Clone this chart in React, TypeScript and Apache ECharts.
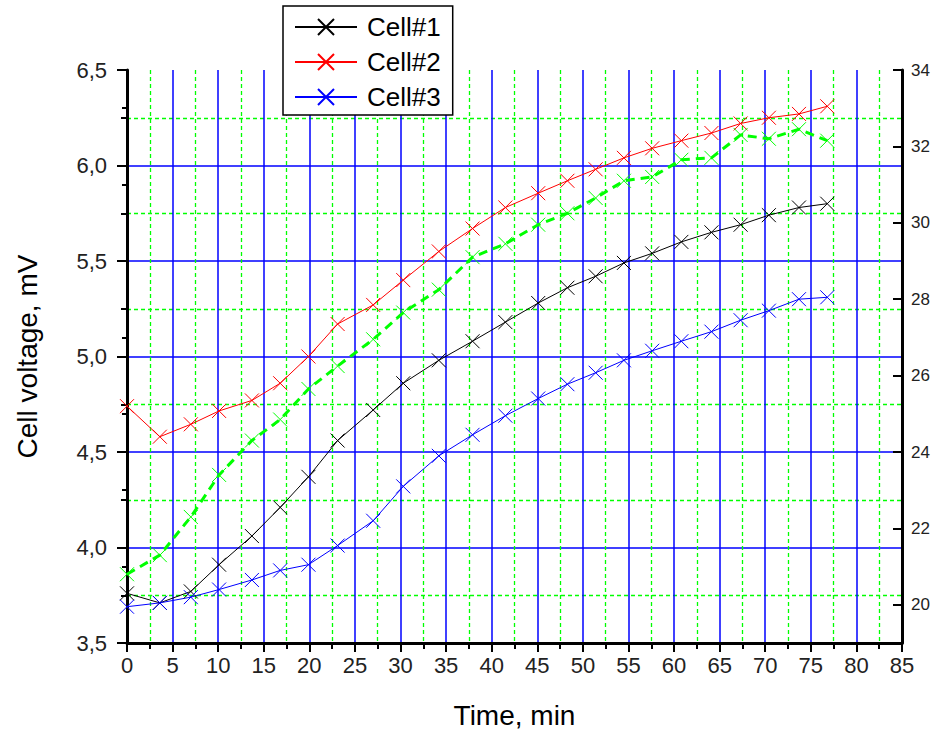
import React, { useEffect, useRef } from "react";
import * as echarts from "echarts";

const times = [0, 3.6, 7.0, 10.1, 13.7, 16.8, 19.9, 23.1, 27.0, 30.3, 34.2, 37.9, 41.5, 45.1, 48.3, 51.4, 54.5, 57.6, 60.8, 64.1, 67.3, 70.4, 73.7, 76.8];
const cell1 = [3.76, 3.71, 3.77, 3.91, 4.06, 4.21, 4.37, 4.56, 4.72, 4.86, 4.98, 5.08, 5.18, 5.28, 5.36, 5.42, 5.49, 5.54, 5.6, 5.65, 5.69, 5.74, 5.78, 5.8];
const cell2 = [4.74, 4.58, 4.645, 4.715, 4.77, 4.86, 5.0, 5.17, 5.27, 5.4, 5.55, 5.67, 5.78, 5.855, 5.92, 5.98, 6.04, 6.09, 6.13, 6.17, 6.22, 6.25, 6.27, 6.31];
const cell3 = [3.69, 3.71, 3.74, 3.78, 3.83, 3.88, 3.91, 4.01, 4.14, 4.32, 4.48, 4.59, 4.69, 4.78, 4.855, 4.915, 4.98, 5.03, 5.08, 5.13, 5.19, 5.24, 5.3, 5.31];
const rightSeries = [20.8, 21.3, 22.3, 23.4, 24.3, 24.85, 25.65, 26.25, 26.95, 27.65, 28.25, 29.1, 29.45, 29.95, 30.25, 30.65, 31.1, 31.2, 31.65, 31.7, 32.3, 32.2, 32.45, 32.15];
const rightMajorTicks = [20, 22, 24, 26, 28, 30, 32, 34];
const rightMinorTicks = [21, 23, 25, 27, 29, 31, 33];
const legendNames = ["Cell#1", "Cell#2", "Cell#3"];

const XSYM = "path://M0,0L10,10M10,0L0,10";
const FONT = "Liberation Sans, Arial, sans-serif";

function pairs(ys: number[]) {
  return times.map((t, i) => [t, ys[i]]);
}

function lineSeries(name: string, ys: number[], color: string, yAxisIndex = 0, dashed = false) {
  return {
    name,
    type: "line",
    yAxisIndex,
    data: pairs(ys),
    symbol: XSYM,
    symbolSize: 14,
    showAllSymbol: true,
    lineStyle: dashed ? { color, width: 3, type: [9, 6] } : { color, width: 1 },
    itemStyle: { color, borderColor: color, borderWidth: 1 },
    emphasis: { disabled: true },
    z: 3,
  };
}

export default function App() {
  const ref = useRef<HTMLDivElement>(null);
  useEffect(() => {
    if (!ref.current) return;
    const chart = echarts.init(ref.current, undefined, { renderer: "svg" });
    chart.setOption({
      animation: false,
      backgroundColor: "#ffffff",
      textStyle: { fontFamily: FONT },
      grid: { left: 127, right: 30, top: 70, bottom: 92, containLabel: false, outerBoundsMode: "none" },
      legend: {
        data: legendNames,
        orient: "vertical",
        left: 283,
        top: 6,
        padding: [8, 12, 5, 11],
        itemWidth: 62,
        itemHeight: 20,
        itemGap: 9,
        backgroundColor: "#ffffff",
        borderColor: "#000000",
        borderWidth: 1.5,
        borderRadius: 0,
        textStyle: { fontSize: 26, lineHeight: 25, color: "#000", fontFamily: FONT, padding: [0, 0, 0, 5] },
        z: 10,
      },
      xAxis: {
        type: "value",
        min: 0,
        max: 85,
        interval: 5,
        name: "Time, min",
        nameLocation: "middle",
        nameGap: 58,
        nameTextStyle: { fontSize: 28, color: "#000", fontFamily: FONT },
        axisLine: { show: true, onZero: false, lineStyle: { color: "#000", width: 3 } },
        axisTick: { show: true, inside: false, length: 9, lineStyle: { color: "#000", width: 2 } },
        minorTick: { show: true, splitNumber: 2, length: 6, lineStyle: { color: "#000", width: 2 } },
        axisLabel: { fontSize: 22, color: "#222", margin: 11, fontFamily: FONT },
        splitLine: { show: true, showMinLine: false, showMaxLine: false, lineStyle: { color: "#0000ff", width: 1.5, type: "solid" } },
        minorSplitLine: { show: true, lineStyle: { color: "#00ff00", width: 1.3, type: [4, 3] } },
      },
      yAxis: [
        {
          type: "value",
          min: 3.5,
          max: 6.5,
          interval: 0.5,
          position: "left",
          name: "Cell voltage, mV",
          nameLocation: "middle",
          nameGap: 86,
          nameTextStyle: { fontSize: 28, color: "#000", fontFamily: FONT },
          axisLine: { show: true, onZero: false, lineStyle: { color: "#000", width: 3 } },
          axisTick: { show: true, inside: false, length: 10, lineStyle: { color: "#000", width: 2 } },
          minorTick: { show: true, splitNumber: 2, length: 6, lineStyle: { color: "#000", width: 2 } },
          axisLabel: {
            fontSize: 22,
            color: "#222",
            margin: 20,
            fontFamily: FONT,
            formatter: (v: number) => v.toFixed(1).replace(".", ","),
          },
          splitLine: { show: true, showMinLine: false, showMaxLine: false, lineStyle: { color: "#0000ff", width: 1.5, type: "solid" } },
          minorSplitLine: { show: true, lineStyle: { color: "#00ff00", width: 1.3, type: [4, 3] } },
        },
        {
          type: "value",
          min: 19,
          max: 34,
          position: "right",
          axisLine: { show: true, onZero: false, lineStyle: { color: "#000", width: 3 } },
          axisTick: { show: true, inside: true, length: 9, customValues: rightMajorTicks, lineStyle: { color: "#000", width: 2 } },
          axisLabel: { show: true, customValues: rightMajorTicks, fontSize: 17, color: "#222", margin: 9, fontFamily: FONT },
          splitLine: { show: false },
        },
        {
          type: "value",
          min: 19,
          max: 34,
          position: "right",
          axisLine: { show: false },
          axisTick: { show: true, inside: true, length: 5, customValues: rightMinorTicks, lineStyle: { color: "#000", width: 2 } },
          axisLabel: { show: false },
          splitLine: { show: false },
        },
      ],
      series: [
        lineSeries("Cell#1", cell1, "#000000"),
        lineSeries("Cell#2", cell2, "#ff0000"),
        lineSeries("Cell#3", cell3, "#0000ff"),
        lineSeries("Right axis", rightSeries, "#00ff00", 1, true),
      ],
    });
    return () => chart.dispose();
  }, []);
  return <div ref={ref} style={{ position: "absolute", left: 0, top: 0, width: 932, height: 735 }} />;
}
